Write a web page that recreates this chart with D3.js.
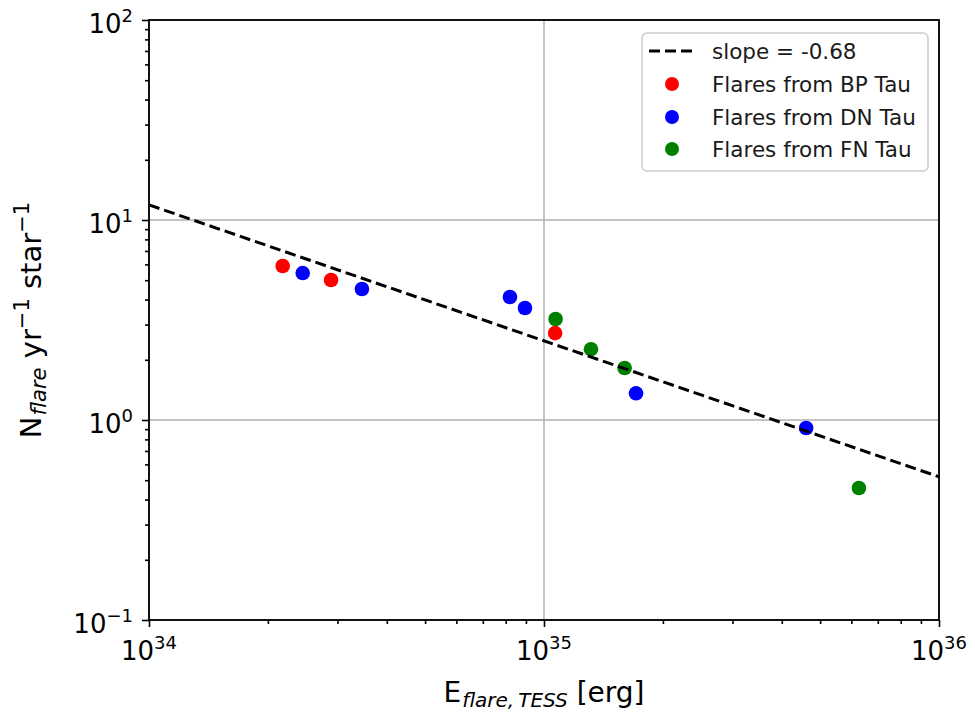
<!DOCTYPE html>
<html>
<head>
<meta charset="utf-8">
<script src="https://cdn.jsdelivr.net/npm/d3@7"></script>
<style>
  html, body { margin: 0; padding: 0; background: #fff; }
  svg { display: block; font-family: "DejaVu Sans", sans-serif; }
</style>
</head>
<body>
<svg id="chart" width="975" height="715"></svg>
<script>
// ---- data ----
const bpE = [2.18e34, 2.89e34, 1.067e35];
const bpN = [5.89, 5.01, 2.72];
const dnE = [2.45e34, 3.46e34, 8.20e34, 8.95e34, 1.71e35, 4.61e35];
const dnN = [5.43, 4.52, 4.12, 3.63, 1.36, 0.912];
const fnE = [1.07e35, 1.315e35, 1.60e35, 6.27e35];
const fnN = [3.20, 2.26, 1.82, 0.457];
const fitE = [1e34, 1e36];
const fitN = [11.9, 0.52];
const xMajor = [1e34, 1e35, 1e36];
const xTickExp = ["34", "35", "36"];
const yMajor = [0.1, 1, 10, 100];
const yTickExp = ["\u22121", "0", "1", "2"];
const legendLabels = ["slope = -0.68", "Flares from BP Tau", "Flares from DN Tau", "Flares from FN Tau"];
const seriesColors = ["#ff0000", "#0000ff", "#008000"];

// ---- layout ----
const W = 975, H = 715;
const m = {left: 149, right: 36, top: 20, bottom: 95};
const iw = W - m.left - m.right, ih = H - m.top - m.bottom;

const svg = d3.select("#chart");
const g = svg.append("g").attr("transform", `translate(${m.left},${m.top})`);

const x = d3.scaleLog().domain([1e34, 1e36]).range([0, iw]);
const y = d3.scaleLog().domain([0.1, 100]).range([ih, 0]);

// grid
g.append("g").selectAll("line").data(xMajor).join("line")
  .attr("x1", d => x(d)).attr("x2", d => x(d)).attr("y1", 0).attr("y2", ih)
  .attr("stroke", "#b0b0b0").attr("stroke-width", 1.5);
g.append("g").selectAll("line").data(yMajor).join("line")
  .attr("y1", d => y(d)).attr("y2", d => y(d)).attr("x1", 0).attr("x2", iw)
  .attr("stroke", "#b0b0b0").attr("stroke-width", 1.5);

// scatter (drawn below line, like matplotlib zorder)
const series = [[bpE, bpN], [dnE, dnN], [fnE, fnN]];
series.forEach(([es, ns], i) => {
  g.append("g").selectAll("circle").data(es.map((e, j) => [e, ns[j]])).join("circle")
    .attr("cx", d => x(d[0])).attr("cy", d => y(d[1])).attr("r", 7.3)
    .attr("fill", seriesColors[i]);
});

// fit line
g.append("path")
  .datum(fitE.map((e, j) => [e, fitN[j]]))
  .attr("d", d3.line().x(d => x(d[0])).y(d => y(d[1])))
  .attr("fill", "none").attr("stroke", "#000").attr("stroke-width", 3)
  .attr("stroke-dasharray", "11,5");

// axes: ticks
function styleAxis(sel) {
  sel.select(".domain").remove();
  sel.selectAll(".tick line").attr("stroke", "#000").attr("stroke-width", 1.6);
  sel.selectAll(".tick text").remove();
}
const xMinor = x.ticks().filter(t => !xMajor.some(v => Math.abs(v - t) / v < 1e-6));
const yMinor = y.ticks().filter(t => !yMajor.some(v => Math.abs(v - t) / v < 1e-6));

g.append("g").attr("transform", `translate(0,${ih})`)
  .call(d3.axisBottom(x).tickValues(xMajor).tickSize(7).tickFormat(() => "")).call(styleAxis);
g.append("g").attr("transform", `translate(0,${ih})`)
  .call(d3.axisBottom(x).tickValues(xMinor).tickSize(4).tickFormat(() => "")).call(styleAxis);
g.append("g")
  .call(d3.axisLeft(y).tickValues(yMajor).tickSize(7).tickFormat(() => "")).call(styleAxis);
g.append("g")
  .call(d3.axisLeft(y).tickValues(yMinor).tickSize(4).tickFormat(() => "")).call(styleAxis);

// spines
g.append("rect").attr("x", 0).attr("y", 0).attr("width", iw).attr("height", ih)
  .attr("fill", "none").attr("stroke", "#000").attr("stroke-width", 1.8);

// tick labels
xMajor.forEach((v, i) => {
  const t = g.append("text").attr("x", x(v)).attr("y", ih + 40)
    .attr("text-anchor", "middle").attr("font-size", 26).attr("fill", "#000");
  t.append("tspan").text("10");
  t.append("tspan").attr("font-size", 18).attr("dy", -11).text(xTickExp[i]);
});
yMajor.forEach((v, i) => {
  const t = g.append("text").attr("x", -16).attr("y", y(v) + 13)
    .attr("text-anchor", "end").attr("font-size", 26).attr("fill", "#000");
  t.append("tspan").text("10");
  t.append("tspan").attr("font-size", 18).attr("dy", -11).text(yTickExp[i]);
});

// x label
const xl = svg.append("text").attr("x", m.left + iw / 2).attr("y", 702)
  .attr("text-anchor", "middle").attr("font-size", 28).attr("fill", "#000");
xl.append("tspan").text("E");
xl.append("tspan").attr("font-size", 20).attr("font-style", "italic").attr("dy", 5).attr("dx", 1).text("flare,\u2009TESS");
xl.append("tspan").attr("dy", -5).text(" [erg]");

// y label
const yl = svg.append("text").attr("transform", `translate(41,${m.top + ih / 2}) rotate(-90)`)
  .attr("text-anchor", "middle").attr("font-size", 29).attr("fill", "#000");
yl.append("tspan").text("N");
yl.append("tspan").attr("font-size", 21).attr("font-style", "italic").attr("dy", 5).attr("dx", 1).text("flare");
yl.append("tspan").attr("dy", -5).text(" yr");
yl.append("tspan").attr("font-size", 21).attr("dy", -12).text("\u22121");
yl.append("tspan").attr("dy", 12).text(" star");
yl.append("tspan").attr("font-size", 21).attr("dy", -12).text("\u22121");

// legend
const lg = svg.append("g");
lg.append("rect").attr("x", 642).attr("y", 33).attr("width", 286).attr("height", 138)
  .attr("rx", 5).attr("fill", "#fff").attr("fill-opacity", 0.8)
  .attr("stroke", "#cccccc").attr("stroke-width", 1.5);
const rowY = [51, 84, 117, 149];
lg.append("line").attr("x1", 649).attr("x2", 693).attr("y1", rowY[0]).attr("y2", rowY[0])
  .attr("stroke", "#000").attr("stroke-width", 3).attr("stroke-dasharray", "11,5");
seriesColors.forEach((c, i) => {
  lg.append("circle").attr("cx", 672).attr("cy", rowY[i + 1]).attr("r", 7).attr("fill", c);
});
legendLabels.forEach((s, i) => {
  lg.append("text").attr("x", 712).attr("y", rowY[i]).attr("dy", "0.36em")
    .attr("font-size", 21.5).attr("fill", "#1a1a1a").text(s);
});
</script>
</body>
</html>
